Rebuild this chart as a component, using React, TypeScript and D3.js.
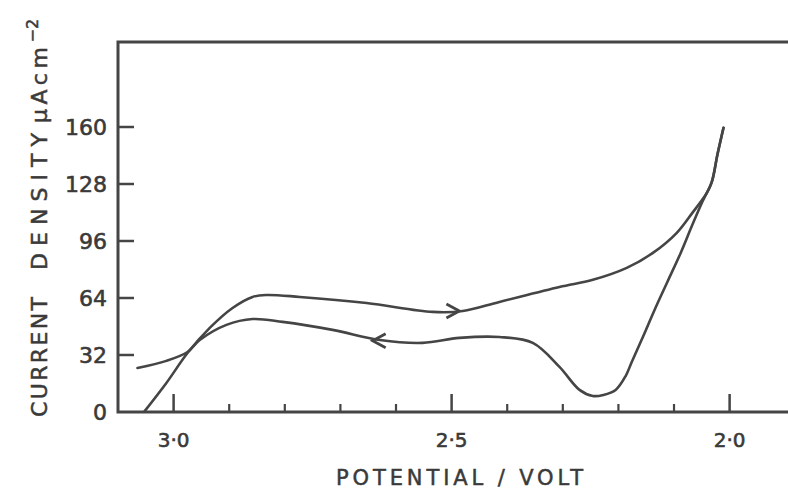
import React, { useEffect, useRef } from "react";
import * as d3 from "d3";

// cyclic voltammogram
// forward sweep (upper branch, arrow pointing to lower potential)
const forwardV = [3.052, 3.013, 2.975, 2.935, 2.894, 2.858, 2.833, 2.773, 2.653, 2.534, 2.48, 2.414,
  2.306, 2.246, 2.185, 2.138, 2.095, 2.067, 2.041, 2.032, 2.022, 2.011];
const forwardI = [0.5, 16.3, 33.1, 47.2, 58.4, 64.6, 65.7, 64.6, 61.2, 56.2, 56.7, 61.8,
  70.2, 74.2, 80.9, 89.3, 100.6, 111.8, 123.0, 129.2, 144.4, 159.6];

// reverse sweep (lower branch)
const reverseV = [2.011, 2.022, 2.032, 2.049, 2.067, 2.088, 2.112, 2.135, 2.156, 2.176, 2.187, 2.205, 2.227, 2.246,
  2.27, 2.306, 2.354, 2.414, 2.486, 2.552, 2.629, 2.714, 2.804, 2.858, 2.905, 2.953, 2.975, 3.013, 3.065];
const reverseI = [159.6, 144.4, 129.2, 118.0, 105.1, 89.3, 73.0, 57.3, 42.1, 28.1, 20.2, 12.4, 9.6, 9.0,
  12.4, 25.3, 38.8, 42.1, 41.6, 38.8, 40.4, 46.1, 50.6, 52.2, 48.9, 40.4, 33.7, 28.7, 24.7];

// direction arrows on the sweeps
const arrowV = [2.486, 2.642];
const arrowI = [56.7, 40.0];
const arrowDir = [1, -1];

const yTicks = [0, 32, 64, 96, 128, 160];
const xMajor = [3.0, 2.5, 2.0];
const xMajorLabels = ["3·0", "2·5", "2·0"];
const xMinor = [2.9, 2.8, 2.7, 2.6, 2.4, 2.3, 2.2, 2.1];

const ink = "#454545";
const textInk = "#3a3a3a";
const font = "'DejaVu Sans', sans-serif";

export default function App() {
  const ref = useRef<SVGSVGElement>(null);

  useEffect(() => {
    const svg = d3.select(ref.current);
    svg.selectAll("*").remove();

    const left = 118, top = 42, bottom = 412, right = 790;

    const x = d3.scaleLinear().domain([3.1, 1.895]).range([left, 788]);
    const y = d3.scaleLinear().domain([0, 160]).range([bottom, 127]);

    // frame: left, top and bottom lines (right side cut off)
    svg.append("path")
      .attr("d", `M${right},${top}H${left}V${bottom}H${right}`)
      .attr("fill", "none")
      .attr("stroke", ink)
      .attr("stroke-width", 3);

    // y ticks, pointing inwards
    svg.selectAll(".ytick")
      .data(yTicks.filter(d => d > 0))
      .enter()
      .append("line")
      .attr("x1", left)
      .attr("x2", left + 16)
      .attr("y1", d => y(d))
      .attr("y2", d => y(d))
      .attr("stroke", ink)
      .attr("stroke-width", 2.5);

    svg.selectAll(".ylab")
      .data(yTicks)
      .enter()
      .append("text")
      .attr("x", 107)
      .attr("y", d => y(d) + 8)
      .attr("text-anchor", "end")
      .attr("font-family", font)
      .attr("font-size", 22)
      .attr("fill", textInk)
      .attr("stroke", textInk)
      .attr("stroke-width", 0.6)
      .text(d => String(d));

    // x ticks, major and minor
    svg.selectAll(".xmaj")
      .data(xMajor)
      .enter()
      .append("line")
      .attr("x1", d => x(d))
      .attr("x2", d => x(d))
      .attr("y1", bottom)
      .attr("y2", bottom - 18)
      .attr("stroke", ink)
      .attr("stroke-width", 2.5);

    svg.selectAll(".xmin")
      .data(xMinor)
      .enter()
      .append("line")
      .attr("x1", d => x(d))
      .attr("x2", d => x(d))
      .attr("y1", bottom)
      .attr("y2", bottom - 8)
      .attr("stroke", ink)
      .attr("stroke-width", 2.2);

    svg.selectAll(".xlab")
      .data(xMajor)
      .enter()
      .append("text")
      .attr("x", d => x(d))
      .attr("y", 447)
      .attr("text-anchor", "middle")
      .attr("font-family", font)
      .attr("font-size", 20)
      .attr("fill", textInk)
      .attr("stroke", textInk)
      .attr("stroke-width", 0.6)
      .text((d, i) => xMajorLabels[i]);

    // axis titles
    svg.append("text")
      .attr("x", 336)
      .attr("y", 485)
      .attr("font-family", font)
      .attr("font-size", 21)
      .attr("fill", textInk)
      .attr("stroke", textInk)
      .attr("stroke-width", 0.5)
      .attr("textLength", 247)
      .attr("lengthAdjust", "spacing")
      .text("POTENTIAL / VOLT");

    const ytitle = svg.append("g")
      .attr("transform", "translate(47,0) rotate(-90)")
      .attr("font-family", font)
      .attr("font-size", 22)
      .attr("fill", textInk)
      .attr("stroke", textInk)
      .attr("stroke-width", 0.5);
    ytitle.append("text")
      .attr("x", -417)
      .attr("y", 0)
      .attr("textLength", 120)
      .attr("lengthAdjust", "spacing")
      .text("CURRENT");
    ytitle.append("text")
      .attr("x", -270)
      .attr("y", 0)
      .attr("textLength", 137)
      .attr("lengthAdjust", "spacing")
      .text("DENSITY");
    const unit = ytitle.append("text")
      .attr("x", -123)
      .attr("y", 0);
    unit.append("tspan").attr("textLength", 76).attr("lengthAdjust", "spacing").text("μAcm");
    unit.append("tspan").attr("dy", -9).attr("font-size", 16).text("−2");

    // the two sweeps
    const line = d3.line<[number, number]>()
      .x(d => x(d[0]))
      .y(d => y(d[1]))
      .curve(d3.curveCatmullRom.alpha(0.5));

    const fwd = forwardV.map((v, i) => [v, forwardI[i]] as [number, number]);
    const rev = reverseV.map((v, i) => [v, reverseI[i]] as [number, number]);

    svg.selectAll(".sweep")
      .data([fwd, rev])
      .enter()
      .append("path")
      .attr("d", d => line(d))
      .attr("fill", "none")
      .attr("stroke", ink)
      .attr("stroke-width", 2.6)
      .attr("stroke-linecap", "round");

    // arrow heads as chevrons
    svg.selectAll(".arrow")
      .data(arrowV)
      .enter()
      .append("path")
      .attr("d", (v, i) => {
        const tx = x(v), ty = y(arrowI[i]);
        const bx = tx - arrowDir[i] * 13;
        return `M${bx},${ty - 7}L${tx},${ty}L${bx},${ty + 7}`;
      })
      .attr("fill", "none")
      .attr("stroke", ink)
      .attr("stroke-width", 2.8)
      .attr("stroke-linejoin", "miter");
  }, []);

  return (
    <svg
      ref={ref}
      width={788}
      height={490}
      style={{ position: "absolute", left: 0, top: 0, background: "#fff" }}
    />
  );
}
